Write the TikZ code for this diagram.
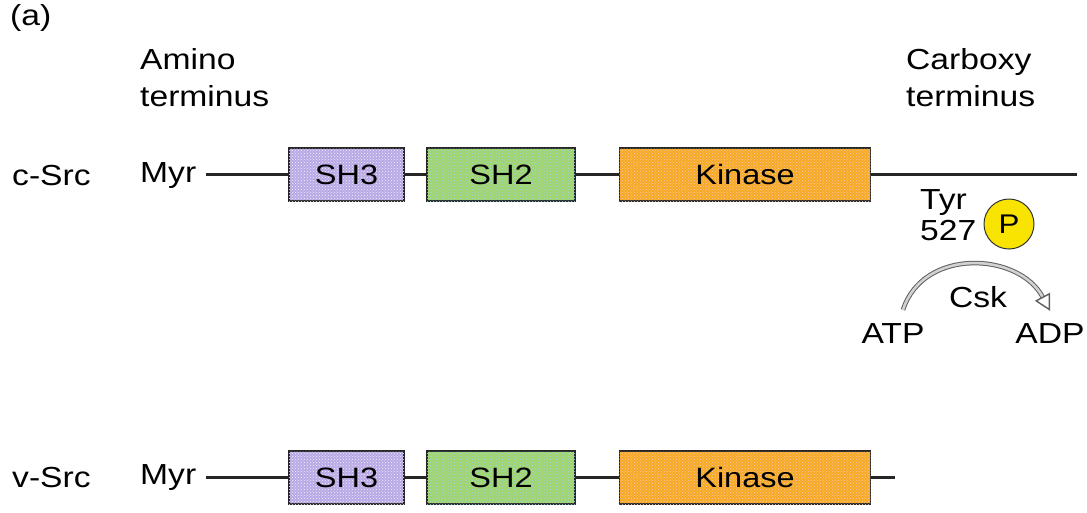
\documentclass[tikz,border=0pt]{standalone}
\usepackage{fontspec}
\usepackage{graphicx}
\setmainfont{Liberation Sans}
\usetikzlibrary{patterns,arrows.meta}
\definecolor{shthree}{HTML}{B9A8E6}
\definecolor{shtwo}{HTML}{A4D46C}
\definecolor{shtwodot}{HTML}{8FD8E8}
\definecolor{kin}{HTML}{F7AA22}
\definecolor{kindot}{HTML}{F6C8B8}
\definecolor{pyel}{HTML}{F8E400}
\newcommand{\hs}[1]{\scalebox{1.16}[1]{#1}}
\tikzset{
  x=1pt, y=-1pt,
  lbl/.style={inner sep=0pt, font=\fontsize{29}{37}\selectfont},
  dom/.style={draw=black!85, line width=1.6pt, minimum height=53pt, inner sep=0pt, font=\fontsize{28}{30}\selectfont},
  chain/.style={line width=2.4pt, draw=black!85},
  sh3box/.style={dom, fill=shthree, minimum width=115pt, postaction={pattern=crosshatch dots, pattern color=white!80!shthree}},
  sh2box/.style={dom, fill=shtwo, minimum width=148pt, postaction={pattern=crosshatch dots, pattern color=shtwodot}},
  kinbox/.style={dom, fill=kin, minimum width=251pt, postaction={pattern=crosshatch dots, pattern color=kindot}},
  csk/.style={draw=gray!75!black, line width=1pt, double=gray!35, double distance=2.6pt, -{Triangle[open, length=16pt, width=17pt, line width=1.4pt]}}
}
\begin{document}
\begin{tikzpicture}
\useasboundingbox (0,0) rectangle (1087,512);
% labels
\node[lbl, anchor=west] (a) at (10,18) {\hs{(a)}};
\node[lbl, anchor=north west, align=left] (amino) at (140,48) {\hs{Amino}\\\hs{terminus}};
\node[lbl, anchor=north west, align=left] (carb) at (906,48) {\hs{Carboxy}\\\hs{terminus}};
% c-Src row
\node[lbl, anchor=west] (csrc) at (12,176) {\hs{c-Src}};
\node[lbl, anchor=west] (cmyr) at (140,176) {\hs{Myr}};
\node[sh3box] (csh3) at (346.5,174.5) {\hs{SH3}};
\node[sh2box] (csh2) at (501,174.5) {\hs{SH2}};
\node[kinbox] (ckin) at (745,174.5) {\hs{Kinase}};
\coordinate (cend) at (1077,174.5);
\draw[chain] ([xshift=10pt]cmyr.east |- csh3.west) -- (csh3.west);
\draw[chain] (csh3.east) -- (csh2.west);
\draw[chain] (csh2.east) -- (ckin.west);
\draw[chain] (ckin.east) -- (cend);
% phosphorylation
\node[lbl, anchor=west, align=left, font=\fontsize{29}{31}\selectfont] (tyr) at (920,215) {\hs{Tyr}\\\hs{527}};
\node[circle, draw=black!80, line width=1pt, fill=pyel, minimum size=50pt, inner sep=0pt, font=\fontsize{27}{30}\selectfont] (p) at (1009,224) {\hs{P}};
\node[lbl] (csktxt) at (978,297) {\hs{Csk}};
\node[lbl] (atp) at (893,334) {\hs{ATP}};
\node[lbl] (adp) at (1050,334) {\hs{ADP}};
\draw[csk] ([xshift=10pt,yshift=14pt]atp.north) to[out=72, in=118, looseness=1.15] ([yshift=13pt]adp.north);
% v-Src row
\node[lbl, anchor=west] (vsrc) at (12,478) {\hs{v-Src}};
\node[lbl, anchor=west] (vmyr) at (140,478) {\hs{Myr}};
\node[sh3box] (vsh3) at (346.5,477.5) {\hs{SH3}};
\node[sh2box] (vsh2) at (501,477.5) {\hs{SH2}};
\node[kinbox] (vkin) at (745,477.5) {\hs{Kinase}};
\coordinate (vend) at (895,477.5);
\draw[chain] ([xshift=10pt]vmyr.east |- vsh3.west) -- (vsh3.west);
\draw[chain] (vsh3.east) -- (vsh2.west);
\draw[chain] (vsh2.east) -- (vkin.west);
\draw[chain] (vkin.east) -- (vend);
\end{tikzpicture}
\end{document}
